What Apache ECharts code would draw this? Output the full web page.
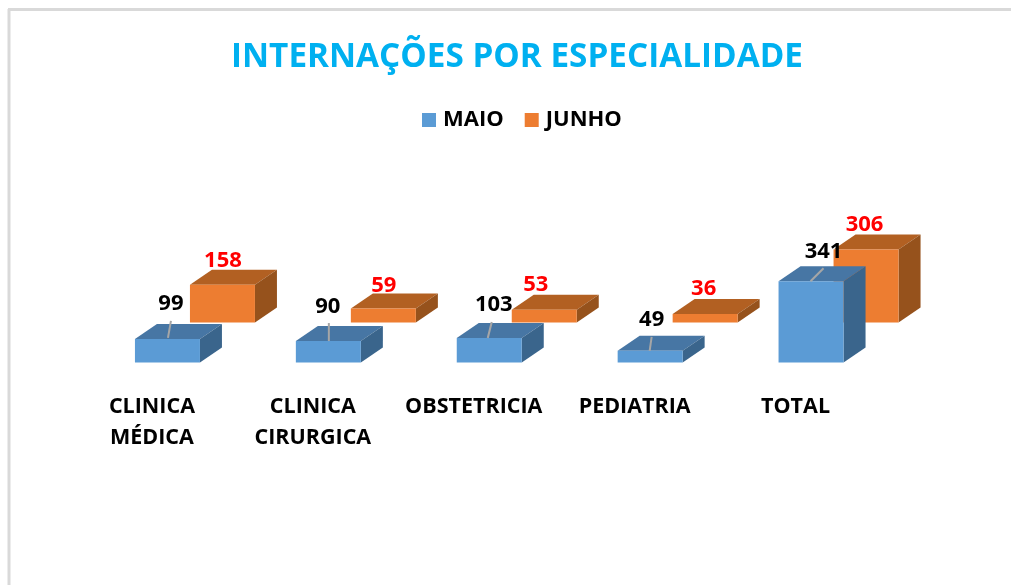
<!DOCTYPE html>
<html><head><meta charset="utf-8">
<style>html,body{margin:0;padding:0;background:#fff}#c{width:1011px;height:585px}</style>
<script src="https://cdn.jsdelivr.net/npm/echarts@6/dist/echarts.min.js"></script>
</head><body><div id="c"></div>
<script>
const categories = ['CLINICA\nMÉDICA', 'CLINICA\nCIRURGICA', 'OBSTETRICIA', 'PEDIATRIA', 'TOTAL'];
const maio = [99, 90, 103, 49, 341];
const junho = [158, 59, 53, 36, 306];
const seriesNames = ['MAIO', 'JUNHO'];
const chartTitle = 'INTERNAÇÕES POR ESPECIALIDADE';

const FONT = '"Open Sans", sans-serif';
const BAR_W = 65, DX = 22, DY = -15;
const bluePalette = {front:'#5B9BD5', top:'#4776A4', side:'#3A658C', label:'#000000'};
const orangePalette = {front:'#ED7D31', top:'#B26022', side:'#96521C', label:'#FF0000'};
// label placement relative to each box (left edge of front face, top of front face)
const blueLabelShift = [[36,-35],[32,-34],[37,-33],[34,-31],[45,-29]];
const orangeLabelShift = [[33,-24],[33,-23],[24,-25],[31,-25],[31,-25]];
const blueLeader = [[36,-18,33,-1],[33,-18,33,0],[35,-16,31,0],[34,-14,32,0],[45,-13,32,0]];

function box(shiftX, shiftY, pal, labelShift, leaders) {
  return function (params, api) {
    const i = api.value(0), v = api.value(1);
    const top = api.coord([i, v]), base = api.coord([i, 0]);
    const x0 = top[0] + shiftX, x1 = x0 + BAR_W;
    const yT = top[1] + shiftY, yB = base[1] + shiftY;
    const kids = [
      {type:'polygon', shape:{points:[[x0,yT],[x1,yT],[x1+DX,yT+DY],[x0+DX,yT+DY]]}, style:{fill:pal.top}},
      {type:'polygon', shape:{points:[[x1,yT],[x1+DX,yT+DY],[x1+DX,yB+DY],[x1,yB]]}, style:{fill:pal.side}},
      {type:'rect', shape:{x:x0,y:yT,width:BAR_W,height:yB-yT}, style:{fill:pal.front}}
    ];
    if (leaders) {
      const l = leaders[i];
      kids.push({type:'line', shape:{x1:x0+l[0],y1:yT+l[1],x2:x0+l[2],y2:yT+l[3]}, style:{stroke:'#A6A6A6',lineWidth:2}});
    }
    const s = labelShift[i];
    kids.push({type:'text', style:{text:String(v), x:x0+s[0], y:yT+s[1], align:'center', verticalAlign:'middle',
      fill:pal.label, font:'700 22px '+FONT}});
    return {type:'group', children:kids};
  };
}

const chart = echarts.init(document.getElementById('c'), null, {renderer:'canvas'});
chart.setOption({
  animation:false,
  backgroundColor:'#ffffff',
  title:{text:chartTitle, left:512, top:36, textAlign:'center',
    textStyle:{color:'#00B0F0', fontFamily:FONT, fontWeight:700, fontSize:33.3}},
  legend:{left:417, top:104, itemWidth:14, itemHeight:14, itemGap:21, icon:'rect',
    data:seriesNames, textStyle:{color:'#000', fontFamily:FONT, fontWeight:700, fontSize:22, padding:[0,0,0,2]}},
  grid:{left:71.5, right:135, top:219.5, bottom:222.5},
  xAxis:{type:'category', data:categories, axisLine:{show:false}, axisTick:{show:false},
    axisLabel:{color:'#000', fontFamily:FONT, fontWeight:700, fontSize:21.5, lineHeight:31, margin:29, interval:0}},
  yAxis:{type:'value', min:0, max:600, show:false, splitLine:{show:false}},
  graphic:[
    {type:'line', silent:true, shape:{x1:8,y1:9.5,x2:1011,y2:9.5}, style:{stroke:'#D9D9D9',lineWidth:3}},
    {type:'line', silent:true, shape:{x1:9,y1:9,x2:9,y2:585}, style:{stroke:'#D9D9D9',lineWidth:3}}
  ],
  series:[
    {name:seriesNames[1], type:'custom', z:2, clip:false, itemStyle:{color:orangePalette.front},
      renderItem:box(38,-40,orangePalette,orangeLabelShift,null),
      encode:{x:0,y:1}, data:junho.map((v,i)=>[i,v])},
    {name:seriesNames[0], type:'custom', z:3, clip:false, itemStyle:{color:bluePalette.front},
      renderItem:box(-17,0,bluePalette,blueLabelShift,blueLeader),
      encode:{x:0,y:1}, data:maio.map((v,i)=>[i,v])}
  ]
});
</script></body></html>
